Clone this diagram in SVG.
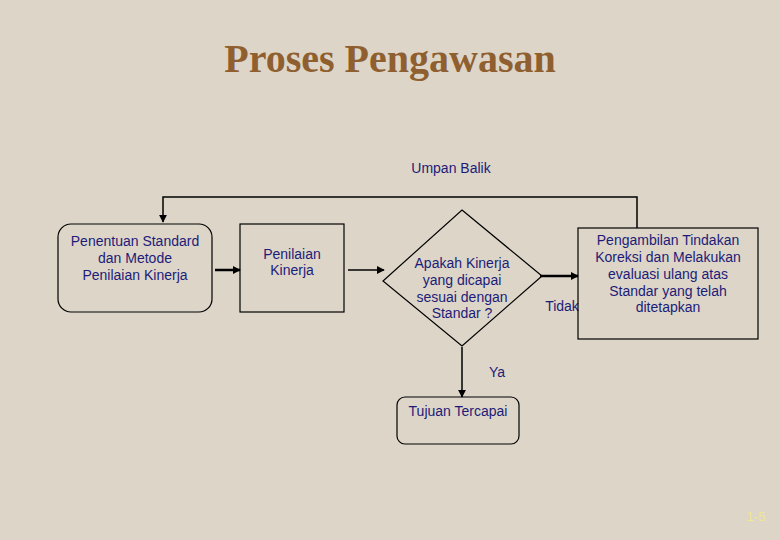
<svg xmlns="http://www.w3.org/2000/svg" width="780" height="540" viewBox="0 0 780 540">
<defs>
<marker id="ah2" viewBox="0 0 10 10" refX="9" refY="5" markerWidth="8" markerHeight="8" markerUnits="userSpaceOnUse" orient="auto"><path d="M0,0 L10,5 L0,10 z" fill="#000"/></marker>
<style>
.t{font-family:"Liberation Sans",Arial,sans-serif;font-size:14px;fill:#1c1c78;text-anchor:middle}
.n{fill:none;stroke:#000;stroke-width:1.2}
.c{fill:none;stroke:#000}
</style>
</defs>
<rect width="780" height="540" fill="#ddd5c8"/>
<text x="390" y="72" font-family="'Liberation Serif','Times New Roman',serif" font-weight="bold" font-size="40" fill="#8f5f2f" text-anchor="middle">Proses Pengawasan</text>
<g id="connectors">
<polyline class="c" stroke-width="1.5" points="637,228 637,197 163,197 163,222" marker-end="url(#ah2)"/>
<line class="c" stroke-width="2.5" x1="215" y1="270" x2="240" y2="270" marker-end="url(#ah2)"/>
<line class="c" stroke-width="1.5" x1="348" y1="270" x2="384" y2="270" marker-end="url(#ah2)"/>
<line class="c" stroke-width="2.5" x1="540" y1="276" x2="578" y2="276" marker-end="url(#ah2)"/>
<line class="c" stroke-width="1.5" x1="462" y1="347" x2="462" y2="397" marker-end="url(#ah2)"/>
<text class="t" x="451" y="173">Umpan Balik</text>
<text class="t" x="562" y="311">Tidak</text>
<text class="t" x="497" y="377">Ya</text>
</g>
<g id="n1">
<rect class="n" x="58" y="224" width="154" height="88" rx="13"/>
<text class="t" x="135" y="246">Penentuan Standard</text>
<text class="t" x="135" y="263">dan Metode</text>
<text class="t" x="135" y="280">Penilaian Kinerja</text>
</g>
<g id="n2">
<rect class="n" x="240" y="224" width="104" height="88"/>
<text class="t" x="292" y="259">Penilaian</text>
<text class="t" x="292" y="275">Kinerja</text>
</g>
<g id="n3">
<polygon class="n" stroke-width="1" points="462,210 542,276 462,346 383,281"/>
<text class="t" x="462" y="268">Apakah Kinerja</text>
<text class="t" x="462" y="285">yang dicapai</text>
<text class="t" x="462" y="302">sesuai dengan</text>
<text class="t" x="462" y="318">Standar ?</text>
</g>
<g id="n4">
<rect class="n" x="578" y="228" width="180" height="111"/>
<text class="t" x="668" y="245">Pengambilan Tindakan</text>
<text class="t" x="668" y="262">Koreksi dan Melakukan</text>
<text class="t" x="668" y="279">evaluasi ulang atas</text>
<text class="t" x="668" y="296">Standar yang telah</text>
<text class="t" x="668" y="312">ditetapkan</text>
</g>
<g id="n5">
<rect class="n" x="397" y="397" width="122" height="47" rx="8"/>
<text class="t" x="458" y="416">Tujuan Tercapai</text>
</g>
<text x="756" y="521" font-family="'Liberation Sans',Arial,sans-serif" font-size="13" fill="#f0e88a" text-anchor="middle">1-5</text>
</svg>
